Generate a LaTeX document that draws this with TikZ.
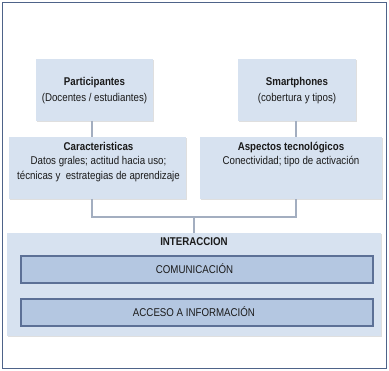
\documentclass[tikz,border=0pt]{standalone}
\usepackage{fontspec}
\setmainfont{Liberation Sans}[FakeStretch=0.86]
\usetikzlibrary{shadows}
\definecolor{frameblue}{HTML}{4E6389}
\definecolor{boxfill}{HTML}{D7E2F0}
\definecolor{innerfill}{HTML}{B4C7E1}
\definecolor{innerdraw}{HTML}{5C7096}
\definecolor{linecol}{HTML}{A3AEC0}
\definecolor{txt}{HTML}{1A1A1A}
\begin{document}
\begin{tikzpicture}[x=1pt,y=-1pt,
  lightbox/.style={fill=boxfill,draw=none,drop shadow={shadow xshift=0.8pt,shadow yshift=-0.8pt,opacity=0.25}},
  innerbox/.style={fill=innerfill,draw=innerdraw,line width=1.3pt},
  conn/.style={draw=linecol,line width=1.1pt},
  lbl/.style={font=\fontsize{11.3}{14.5}\selectfont,text=txt,align=center,inner sep=0pt},
  ]
\useasboundingbox (0,0) rectangle (389,371);
\fill[white] (0,0) rectangle (389,371);
\draw[frameblue,line width=1.8pt] (2.5,2.5) rectangle (386.5,368.5);

% top boxes
\path[lightbox] (36,59) rectangle (153,121);
\path[lightbox] (238,59) rectangle (356,121);
\node[lbl] (part) at (94.5,91) {\textbf{Participantes}\\[1.5pt](Docentes / estudiantes)};
\node[lbl] (smart) at (297,91) {\textbf{Smartphones}\\[1.5pt](cobertura y tipos)};
\coordinate (partB) at (92,121);
\coordinate (smartB) at (296,121);

% middle boxes
\path[lightbox] (9,137) rectangle (186,199);
\path[lightbox] (200,137) rectangle (382,199);
\coordinate (carT) at (92,137);
\coordinate (aspT) at (296,137);
\coordinate (carB) at (92,199);
\coordinate (aspB) at (296,199);
\node[lbl,anchor=north] (car) at (98.5,142) {\textbf{Caracteristicas}\\Datos grales; actitud hacia uso;\\técnicas y \ estrategias de aprendizaje};
\node[lbl,anchor=north] (asp) at (291,142) {\textbf{Aspectos tecnológicos}\\Conectividad; tipo de activación};

% interaction box
\path[lightbox] (7,233) rectangle (381,336);
\coordinate (intT) at (194,233);
\node[lbl] (inter) at (194,241.5) {\textbf{INTERACCION}};
\path[innerbox] (21,256) rectangle (373,283);
\node[lbl] (com) at (194.5,269) {COMUNICACIÓN};
\path[innerbox] (21,299) rectangle (373,326);
\node[lbl] (acc) at (194,312) {ACCESO A INFORMACIÓN};

% connectors
\coordinate (junc) at (194,217);
\path[conn] (partB) -- (carT);
\path[conn] (smartB) -- (aspT);
\path[conn] (carB) |- (junc) -| (aspB);
\path[conn] (junc) -- (intT);
\end{tikzpicture}
\end{document}
